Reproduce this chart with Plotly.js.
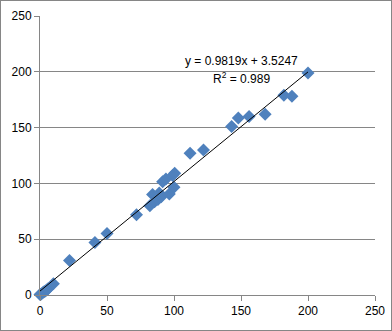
<!DOCTYPE html>
<html><head><meta charset="utf-8">
<script src="https://cdn.plot.ly/plotly-3.0.1.min.js"></script>
<style>
html,body{margin:0;padding:0;background:#fff;}
#wrap{position:relative;width:392px;height:331px;}
#chart{position:absolute;left:0;top:0;width:392px;height:331px;}
#frame{position:absolute;left:0;top:0;width:390px;height:329px;border:1px solid #868686;pointer-events:none;}
</style></head>
<body><div id="wrap"><div id="chart"></div><div id="frame"></div></div>
<script>
const xValues = [0, 1, 2, 3, 4, 5, 6, 10, 22, 41, 50, 72, 82, 84, 85.5, 88, 89, 90.5, 91.5, 94, 96.5, 99, 100.5, 100, 112, 122, 143, 148, 156, 168, 182, 188, 200];
const yValues = [0.5, 1, 2, 3, 3.5, 4.5, 5.5, 10, 31, 47, 55, 72, 80, 90, 83.5, 85.5, 91.5, 88, 101.5, 104, 90.5, 107, 109, 96.5, 127, 130, 151, 158.5, 160, 162, 179, 178, 199];
const slope = 0.9819;
const intercept = 3.5247;
const rSquared = 0.989;
const trendX = [0, 200];
const tickVals = [0, 50, 100, 150, 200, 250];

const font = {family: 'Liberation Sans, Arial, sans-serif', size: 12, color: '#000'};
const data = [
  {x: xValues, y: yValues, type: 'scatter', mode: 'markers', cliponaxis: false,
   marker: {symbol: 'diamond', size: 10, color: '#4F81BD', line: {width: 0}}, hoverinfo: 'none'},
  {x: trendX, y: trendX.map(v => slope * v + intercept), type: 'scatter', mode: 'lines',
   line: {color: '#000', width: 1}, hoverinfo: 'none'}
];
const layout = {
  width: 392, height: 331,
  margin: {l: 40, r: 17, t: 16, b: 36},
  paper_bgcolor: '#fff', plot_bgcolor: '#fff',
  showlegend: false,
  font: font,
  xaxis: {range: [0, 250], tickvals: tickVals, showgrid: false, zeroline: false,
    showline: true, linecolor: '#868686', linewidth: 1, ticks: 'outside', ticklen: 5,
    tickcolor: '#868686', tickfont: font, fixedrange: true},
  yaxis: {range: [0, 250], tickvals: tickVals, showgrid: true, gridcolor: '#868686', gridwidth: 1,
    zeroline: false, showline: true, linecolor: '#868686', linewidth: 1, ticks: 'outside',
    ticklen: 5, tickcolor: '#868686', tickfont: font, fixedrange: true},
  annotations: [
    {xref: 'x', yref: 'y', x: 150.4, y: 209.4, text: 'y = ' + slope + 'x + ' + intercept,
     showarrow: false, font: font, xanchor: 'center', yanchor: 'middle'},
    {xref: 'x', yref: 'y', x: 150.4, y: 194.7, text: 'R<sup>2</sup> = ' + rSquared,
     showarrow: false, font: font, xanchor: 'center', yanchor: 'middle'}
  ]
};
Plotly.newPlot('chart', data, layout, {staticPlot: true, displayModeBar: false});
</script></body></html>
